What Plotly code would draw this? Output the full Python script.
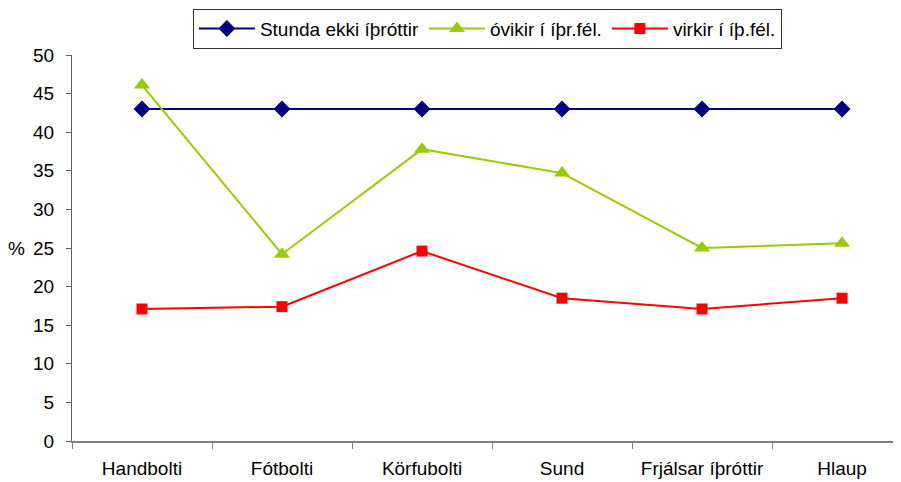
import plotly.graph_objects as go

categories = ["Handbolti", "Fótbolti", "Körfubolti", "Sund", "Frjálsar íþróttir", "Hlaup"]
stunda_ekki = [43.0, 43.0, 43.0, 43.0, 43.0, 43.0]
ovirkir = [46.1, 24.2, 37.8, 34.7, 25.0, 25.6]
virkir = [17.1, 17.4, 24.6, 18.5, 17.1, 18.5]
series_names = ["Stunda ekki íþróttir", "óvikir í íþr.fél.", "virkir í íþ.fél."]
y_ticks = [0, 5, 10, 15, 20, 25, 30, 35, 40, 45, 50]

FONT = "Liberation Sans, Arial, sans-serif"
FS = 19

fig = go.Figure()
fig.add_trace(go.Scatter(
    x=categories, y=stunda_ekki, name=series_names[0], mode="lines+markers",
    line=dict(color="#000080", width=2),
    marker=dict(symbol="diamond", size=13, color="#000080"),
    cliponaxis=False))
fig.add_trace(go.Scatter(
    x=categories, y=ovirkir, name=series_names[1], mode="lines+markers",
    line=dict(color="#99CC00", width=2),
    marker=dict(symbol="triangle-up", size=14, color="#99CC00"),
    cliponaxis=False))
fig.add_trace(go.Scatter(
    x=categories, y=virkir, name=series_names[2], mode="lines+markers",
    line=dict(color="#FF0000", width=2),
    marker=dict(symbol="square", size=11, color="#FF0000"),
    cliponaxis=False))

fig.update_layout(
    width=893, height=474,
    margin=dict(l=64, r=1, t=47, b=41, autoexpand=False),
    paper_bgcolor="white", plot_bgcolor="white",
    font=dict(family=FONT, size=FS, color="black"),
    showlegend=True,
    legend=dict(
        orientation="h", x=0.146, xanchor="left", y=1.12, yanchor="top",
        bordercolor="#333333", borderwidth=1, bgcolor="white",
        font=dict(family=FONT, size=FS, color="black"),
        itemwidth=56, tracegroupgap=0,
    ),
)
fig.update_xaxes(
    type="category", range=[-0.5, 5.414], automargin=False,
    showgrid=False, zeroline=False,
    showline=True, linecolor="#808080", linewidth=2,
    ticks="outside", tickson="boundaries", ticklen=6, tickcolor="#808080",
    ticklabelstandoff=9,
    tickfont=dict(family=FONT, size=FS, color="black"),
)
fig.update_yaxes(
    range=[0, 50], tickvals=y_ticks, automargin=False,
    showgrid=False, zeroline=False,
    showline=True, linecolor="#606060", linewidth=1,
    ticks="outside", ticklen=5, tickcolor="#606060",
    ticklabelstandoff=8,
    tickfont=dict(family=FONT, size=FS, color="black"),
)
fig.add_annotation(
    text="%", xref="paper", yref="y", x=-0.0543, y=25, xanchor="right", yanchor="middle",
    showarrow=False, font=dict(family=FONT, size=FS, color="black"),
)

fig.write_html("out.html")
